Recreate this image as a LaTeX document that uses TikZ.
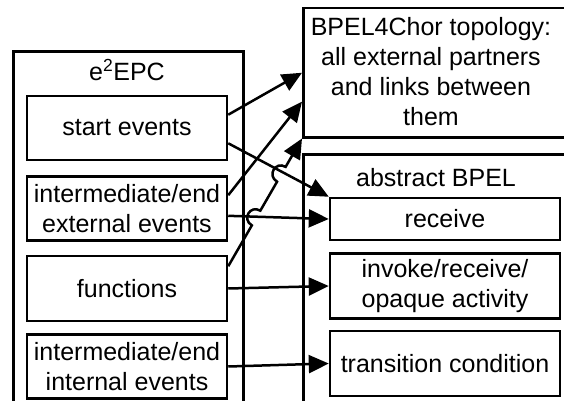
\documentclass[tikz,border=0pt]{standalone}
\usepackage{fontspec}
\setmainfont{Liberation Sans}
\usepackage{tikz}
\usetikzlibrary{arrows.meta, positioning, calc}

\begin{document}
\begin{tikzpicture}[
  x=1pt, y=1pt,
  every node/.style={font=\fontsize{25}{30}\selectfont},
  outer/.style={draw, line width=2.5pt, inner sep=0pt},
  item/.style={draw, line width=2.5pt, minimum width=200pt, align=center, inner sep=2pt},
  bitem/.style={draw, line width=2.5pt, minimum width=230pt, align=center, inner sep=2pt},
  arr/.style={-{Triangle[length=20pt, width=18pt]}, line width=2.5pt},
]
  \path[use as bounding box, clip] (0,0) rectangle (564,400);

  \node[outer, anchor=north west, minimum width=230pt, minimum height=350.5pt] (epc) at (12,350) {};
  \node (epctitle) at (127,330) {e\textsuperscript{2}EPC};
  \node[item, minimum height=64pt] (start) at (127,272) {start events};
  \node[item, minimum height=64pt, below=14pt of start] (extev) {intermediate/end\\external events};
  \node[item, minimum height=65pt, below=13pt of extev] (func) {functions};
  \node[item, minimum height=64pt, below=11pt of func] (intev) {intermediate/end\\internal events};

  \node[outer, anchor=north west, minimum width=268pt, minimum height=129pt] (chor) at (302,393) {};
  \node[align=center] (chortxt) at (431,328.5) {BPEL4Chor topology:\\all external partners\\and links between\\them};
  \node[outer, anchor=north west, minimum width=268pt, minimum height=247.5pt] (bpel) at (302,247) {};
  \node (bpeltitle) at (436,222) {abstract BPEL};
  \node[bitem, minimum height=42pt] (recv) at (445,181) {receive};
  \node[bitem, minimum height=65pt, below=11pt of recv] (invoke) {invoke/receive/\\opaque activity};
  \node[bitem, minimum height=65pt, below=10pt of invoke] (trans) {transition condition};

  \coordinate (s1) at ($(start.north east)!0.3!(start.south east)$);
  \coordinate (s2) at ($(start.north east)!0.73!(start.south east)$);
  \coordinate (e1) at ($(extev.north east)!0.3!(extev.south east)$);
  \coordinate (e2) at ($(extev.north east)!0.61!(extev.south east)$);
  \coordinate (f1) at ($(func.north east)!0.17!(func.south east)$);
  \coordinate (c1) at ($(chor.north west)!0.72!(chor.south west)$);
  \coordinate (j1a) at ($(f1)!0.32!(chor.south west)$);
  \coordinate (j1b) at ($(f1)!0.435!(chor.south west)$);
  \coordinate (j2a) at ($(f1)!0.662!(chor.south west)$);
  \coordinate (j2b) at ($(f1)!0.778!(chor.south west)$);

  \draw[arr] (s1) -- (chor.west);
  \draw[arr] (e1) -- (c1);
  \draw[arr] (s2) -- (recv.north west);
  \draw[arr] (e2) -- (recv.west);
  \draw[arr] (f1) -- (j1a) .. controls +(-10.3,6.1) and +(-10.3,6.1) .. (j1b)
    -- (j2a) .. controls +(-10.3,6.1) and +(-10.3,6.1) .. (j2b) -- (chor.south west);
  \draw[arr] (func.east) -- (invoke.west);
  \draw[arr] (intev.east) -- (trans.west);
\end{tikzpicture}
\end{document}
